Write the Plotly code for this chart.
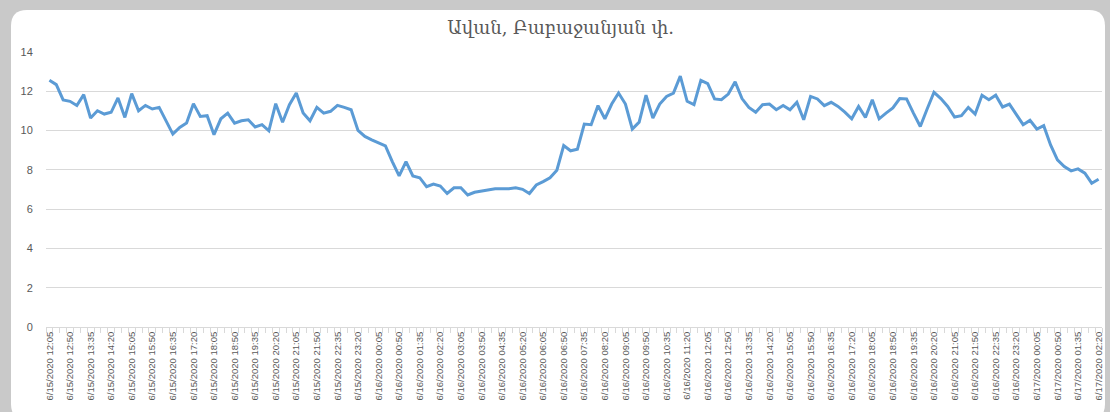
import pandas as pd
import plotly.graph_objects as go

# ---- data -------------------------------------------------------------
title_text = "Ավան, Բաբաջանյան փ."

timestamps = pd.date_range("2020-06-15 12:05", "2020-06-17 02:20", freq="15min")
categories = [f"{t.month}/{t.day}/{t.year} {t:%H:%M}" for t in timestamps]

values = [
    12.56, 12.34, 11.56, 11.49, 11.28, 11.83, 10.64, 11.01, 10.84, 10.93,
    11.66, 10.67, 11.88, 11.01, 11.28, 11.10, 11.18, 10.50, 9.82, 10.16,
    10.38, 11.37, 10.72, 10.76, 9.79, 10.60, 10.89, 10.38, 10.50, 10.55,
    10.18, 10.30, 9.99, 11.37, 10.42, 11.32, 11.91, 10.89, 10.50, 11.18,
    10.89, 10.98, 11.28, 11.18, 11.06, 10.01, 9.70, 9.53, 9.36, 9.22,
    8.42, 7.69,
    8.42, 7.69, 7.60, 7.14, 7.28, 7.18, 6.80, 7.09, 7.09, 6.72,
    6.86, 6.92, 7.01, 7.04, 7.04, 7.04, 7.09, 7.01, 6.80, 7.23,
    7.40, 7.60, 7.98, 9.24, 8.97, 9.05, 10.33, 10.30, 11.27, 10.60,
    11.35, 11.91, 11.35, 10.08, 10.43, 11.80, 10.64, 11.35, 11.74, 11.91,
    12.77, 11.49, 11.32, 12.56, 12.39, 11.61, 11.57, 11.86, 12.48,
    11.63, 11.18, 10.93, 11.32, 11.35, 11.06, 11.28, 11.06, 11.44, 10.55,
    11.74, 11.61, 11.27, 11.44, 11.23, 10.94, 10.60, 11.23, 10.67, 11.57,
    10.60, 10.89, 11.15, 11.63, 11.61, 10.89, 10.21, 11.10, 11.95, 11.63,
    11.23, 10.69, 10.76, 11.18, 10.84, 11.80, 11.57, 11.80, 11.20, 11.35,
    10.81, 10.30, 10.52, 10.08, 10.25, 9.27, 8.51, 8.17, 7.95, 8.05,
    7.83, 7.32, 7.52,
]

label_step = 3
tick_text = [c if i % label_step == 0 else "" for i, c in enumerate(categories)]
y_ticks = [0, 2, 4, 6, 8, 10, 12, 14]

# ---- figure -----------------------------------------------------------
W, H = 1110, 412
ML, MR, MT, MB = 46, 8, 52, 85
pw, ph = W - ML - MR, H - MT - MB


def px_x(p):
    return (p - ML) / pw


def px_y(p):
    return (H - MB - p) / ph


# rounded white card on grey background
x0, x1, y0, y1, r = 11, 1105, 10, 420, 16
card = (
    f"M {px_x(x0 + r)},{px_y(y0)} L {px_x(x1 - r)},{px_y(y0)} "
    f"Q {px_x(x1)},{px_y(y0)} {px_x(x1)},{px_y(y0 + r)} "
    f"L {px_x(x1)},{px_y(y1 - r)} Q {px_x(x1)},{px_y(y1)} {px_x(x1 - r)},{px_y(y1)} "
    f"L {px_x(x0 + r)},{px_y(y1)} Q {px_x(x0)},{px_y(y1)} {px_x(x0)},{px_y(y1 - r)} "
    f"L {px_x(x0)},{px_y(y0 + r)} Q {px_x(x0)},{px_y(y0)} {px_x(x0 + r)},{px_y(y0)} Z"
)

fig = go.Figure()
fig.add_trace(go.Scatter(
    x=categories, y=values, mode="lines",
    line=dict(color="#5b9bd5", width=3),
    showlegend=False, hoverinfo="x+y",
))

fig.update_layout(
    template="none",
    width=W, height=H,
    margin=dict(l=ML, r=MR, t=MT, b=MB),
    paper_bgcolor="#c9c9c9",
    plot_bgcolor="white",
    title=dict(text=title_text, x=0.505, xanchor="center",
               y=1 - 28 / H, yanchor="middle",
               font=dict(family="DejaVu Serif", size=18, color="#595959")),
    shapes=[dict(type="path", path=card, xref="paper", yref="paper",
                 fillcolor="white", line=dict(width=0), layer="below")],
    showlegend=False,
)

fig.update_xaxes(
    type="category", categoryorder="array", categoryarray=categories,
    range=[-0.5, len(categories) - 0.5],
    tickmode="array", tickvals=categories, ticktext=tick_text,
    tickangle=-90, tickson="boundaries",
    ticks="outside", ticklen=5, tickcolor="#d9d9d9",
    showgrid=False, showline=True, linecolor="#d9d9d9", linewidth=1,
    zeroline=False, automargin=False,
    tickfont=dict(family="Liberation Sans Narrow, Liberation Sans", size=9.5, color="#595959"),
)

fig.update_yaxes(
    range=[0, 14], tickmode="array", tickvals=y_ticks,
    showgrid=True, gridcolor="#d9d9d9", gridwidth=1,
    zeroline=False, showline=False,
    ticks="outside", ticklen=10, tickcolor="rgba(0,0,0,0)",
    automargin=False,
    tickfont=dict(family="Liberation Sans", size=11, color="#595959"),
)

fig.write_html(
    "out.html",
    config={"displayModeBar": False},
    post_script="document.body.style.margin='0';document.body.style.overflow='hidden';",
)
